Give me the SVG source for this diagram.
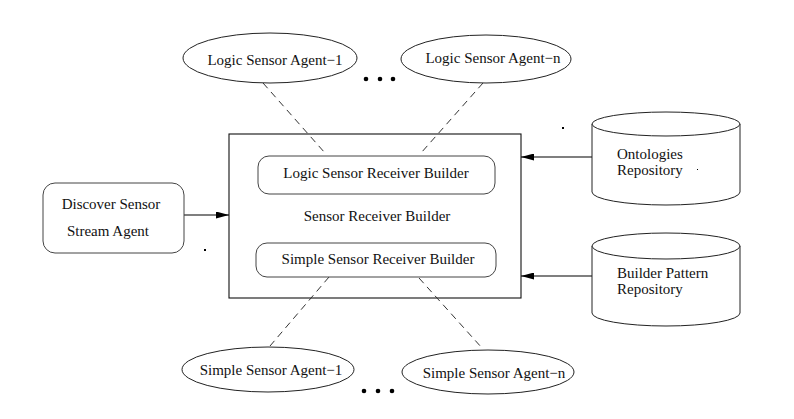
<svg xmlns="http://www.w3.org/2000/svg" width="794" height="419" viewBox="0 0 794 419">
<style>
text{font-family:"Liberation Serif","Times New Roman",serif;font-size:15px;fill:#111}
.c{text-anchor:middle}
.sh{fill:#fff;stroke:#222;stroke-width:1}
.bx{fill:none;stroke:#111;stroke-width:1.1}
.rr{fill:#fff;stroke:#444;stroke-width:1}
.dash{stroke:#333;stroke-width:1;stroke-dasharray:7,5;fill:none}
.ar{stroke:#000;stroke-width:1.2;fill:none;marker-end:url(#ah)}
</style>
<defs>
<marker id="ah" markerWidth="13" markerHeight="7" refX="13" refY="3.5" orient="auto" markerUnits="userSpaceOnUse">
<path d="M0,0 L13,3.5 L0,7 Z" fill="#000"/>
</marker>
</defs>
<rect width="794" height="419" fill="#fff"/>
<g id="sensor-receiver-builder">
<rect class="bx" x="229" y="134" width="292" height="164"/>
<text class="c" x="377" y="221">Sensor Receiver Builder</text>
</g>
<g id="connectors">
<line class="dash" x1="263" y1="83" x2="325" y2="153"/>
<line class="dash" x1="483" y1="83" x2="421" y2="153"/>
<line class="dash" x1="329" y1="277" x2="270" y2="346"/>
<line class="dash" x1="419" y1="278" x2="482" y2="348"/>
<line class="ar" x1="184" y1="215" x2="229" y2="215"/>
<line class="ar" x1="592" y1="157" x2="521" y2="157"/>
<line class="ar" x1="592" y1="276" x2="521" y2="276"/>
</g>
<g id="logic-sensor-receiver-builder">
<rect class="rr" x="258" y="156" width="237" height="38" rx="11"/>
<text class="c" x="376" y="178">Logic Sensor Receiver Builder</text>
</g>
<g id="simple-sensor-receiver-builder">
<rect class="rr" x="256" y="243" width="240" height="34" rx="11"/>
<text class="c" x="378" y="264">Simple Sensor Receiver Builder</text>
</g>
<g id="discover-sensor-stream-agent">
<rect class="rr" x="43" y="183" width="141" height="70" rx="12"/>
<text class="c" x="111" y="209">Discover Sensor</text>
<text class="c" x="108" y="236">Stream Agent</text>
</g>
<g id="logic-sensor-agent-1">
<ellipse class="sh" cx="270" cy="58" rx="87" ry="25"/>
<text class="c" x="275" y="65">Logic Sensor Agent−1</text>
</g>
<g id="logic-sensor-agent-n">
<ellipse class="sh" cx="486" cy="59" rx="85" ry="24"/>
<text class="c" x="493" y="63">Logic Sensor Agent−n</text>
</g>
<g id="logic-dots" fill="#000">
<circle cx="366" cy="79" r="2.3"/>
<circle cx="380" cy="79" r="2.3"/>
<circle cx="393" cy="79" r="2.3"/>
</g>
<g id="simple-sensor-agent-1">
<ellipse class="sh" cx="268" cy="369.5" rx="86" ry="22.5"/>
<text class="c" x="271" y="375">Simple Sensor Agent−1</text>
</g>
<g id="simple-sensor-agent-n">
<ellipse class="sh" cx="488" cy="372" rx="86" ry="22"/>
<text class="c" x="494" y="378">Simple Sensor Agent−n</text>
</g>
<g id="simple-dots" fill="#000">
<circle cx="364" cy="391" r="2.3"/>
<circle cx="378" cy="391" r="2.3"/>
<circle cx="392" cy="391" r="2.3"/>
</g>
<g id="ontologies-repository">
<path class="sh" d="M592,124 V192 A74,13 0 0 0 740,192 V124"/>
<ellipse class="sh" cx="666" cy="124" rx="74" ry="12"/>
<text x="617" y="159">Ontologies</text>
<text x="617" y="175">Repository</text>
</g>
<g id="builder-pattern-repository">
<path class="sh" d="M592,246 V313 A74,13 0 0 0 740,313 V246"/>
<ellipse class="sh" cx="666" cy="246" rx="74" ry="13"/>
<text x="617" y="278">Builder Pattern</text>
<text x="617" y="294">Repository</text>
</g>
<g id="specks" fill="#000">
<rect x="204" y="249" width="2" height="2"/>
<rect x="562" y="127" width="2" height="2"/>
<rect x="697" y="169" width="1" height="1"/>
</g>
</svg>
